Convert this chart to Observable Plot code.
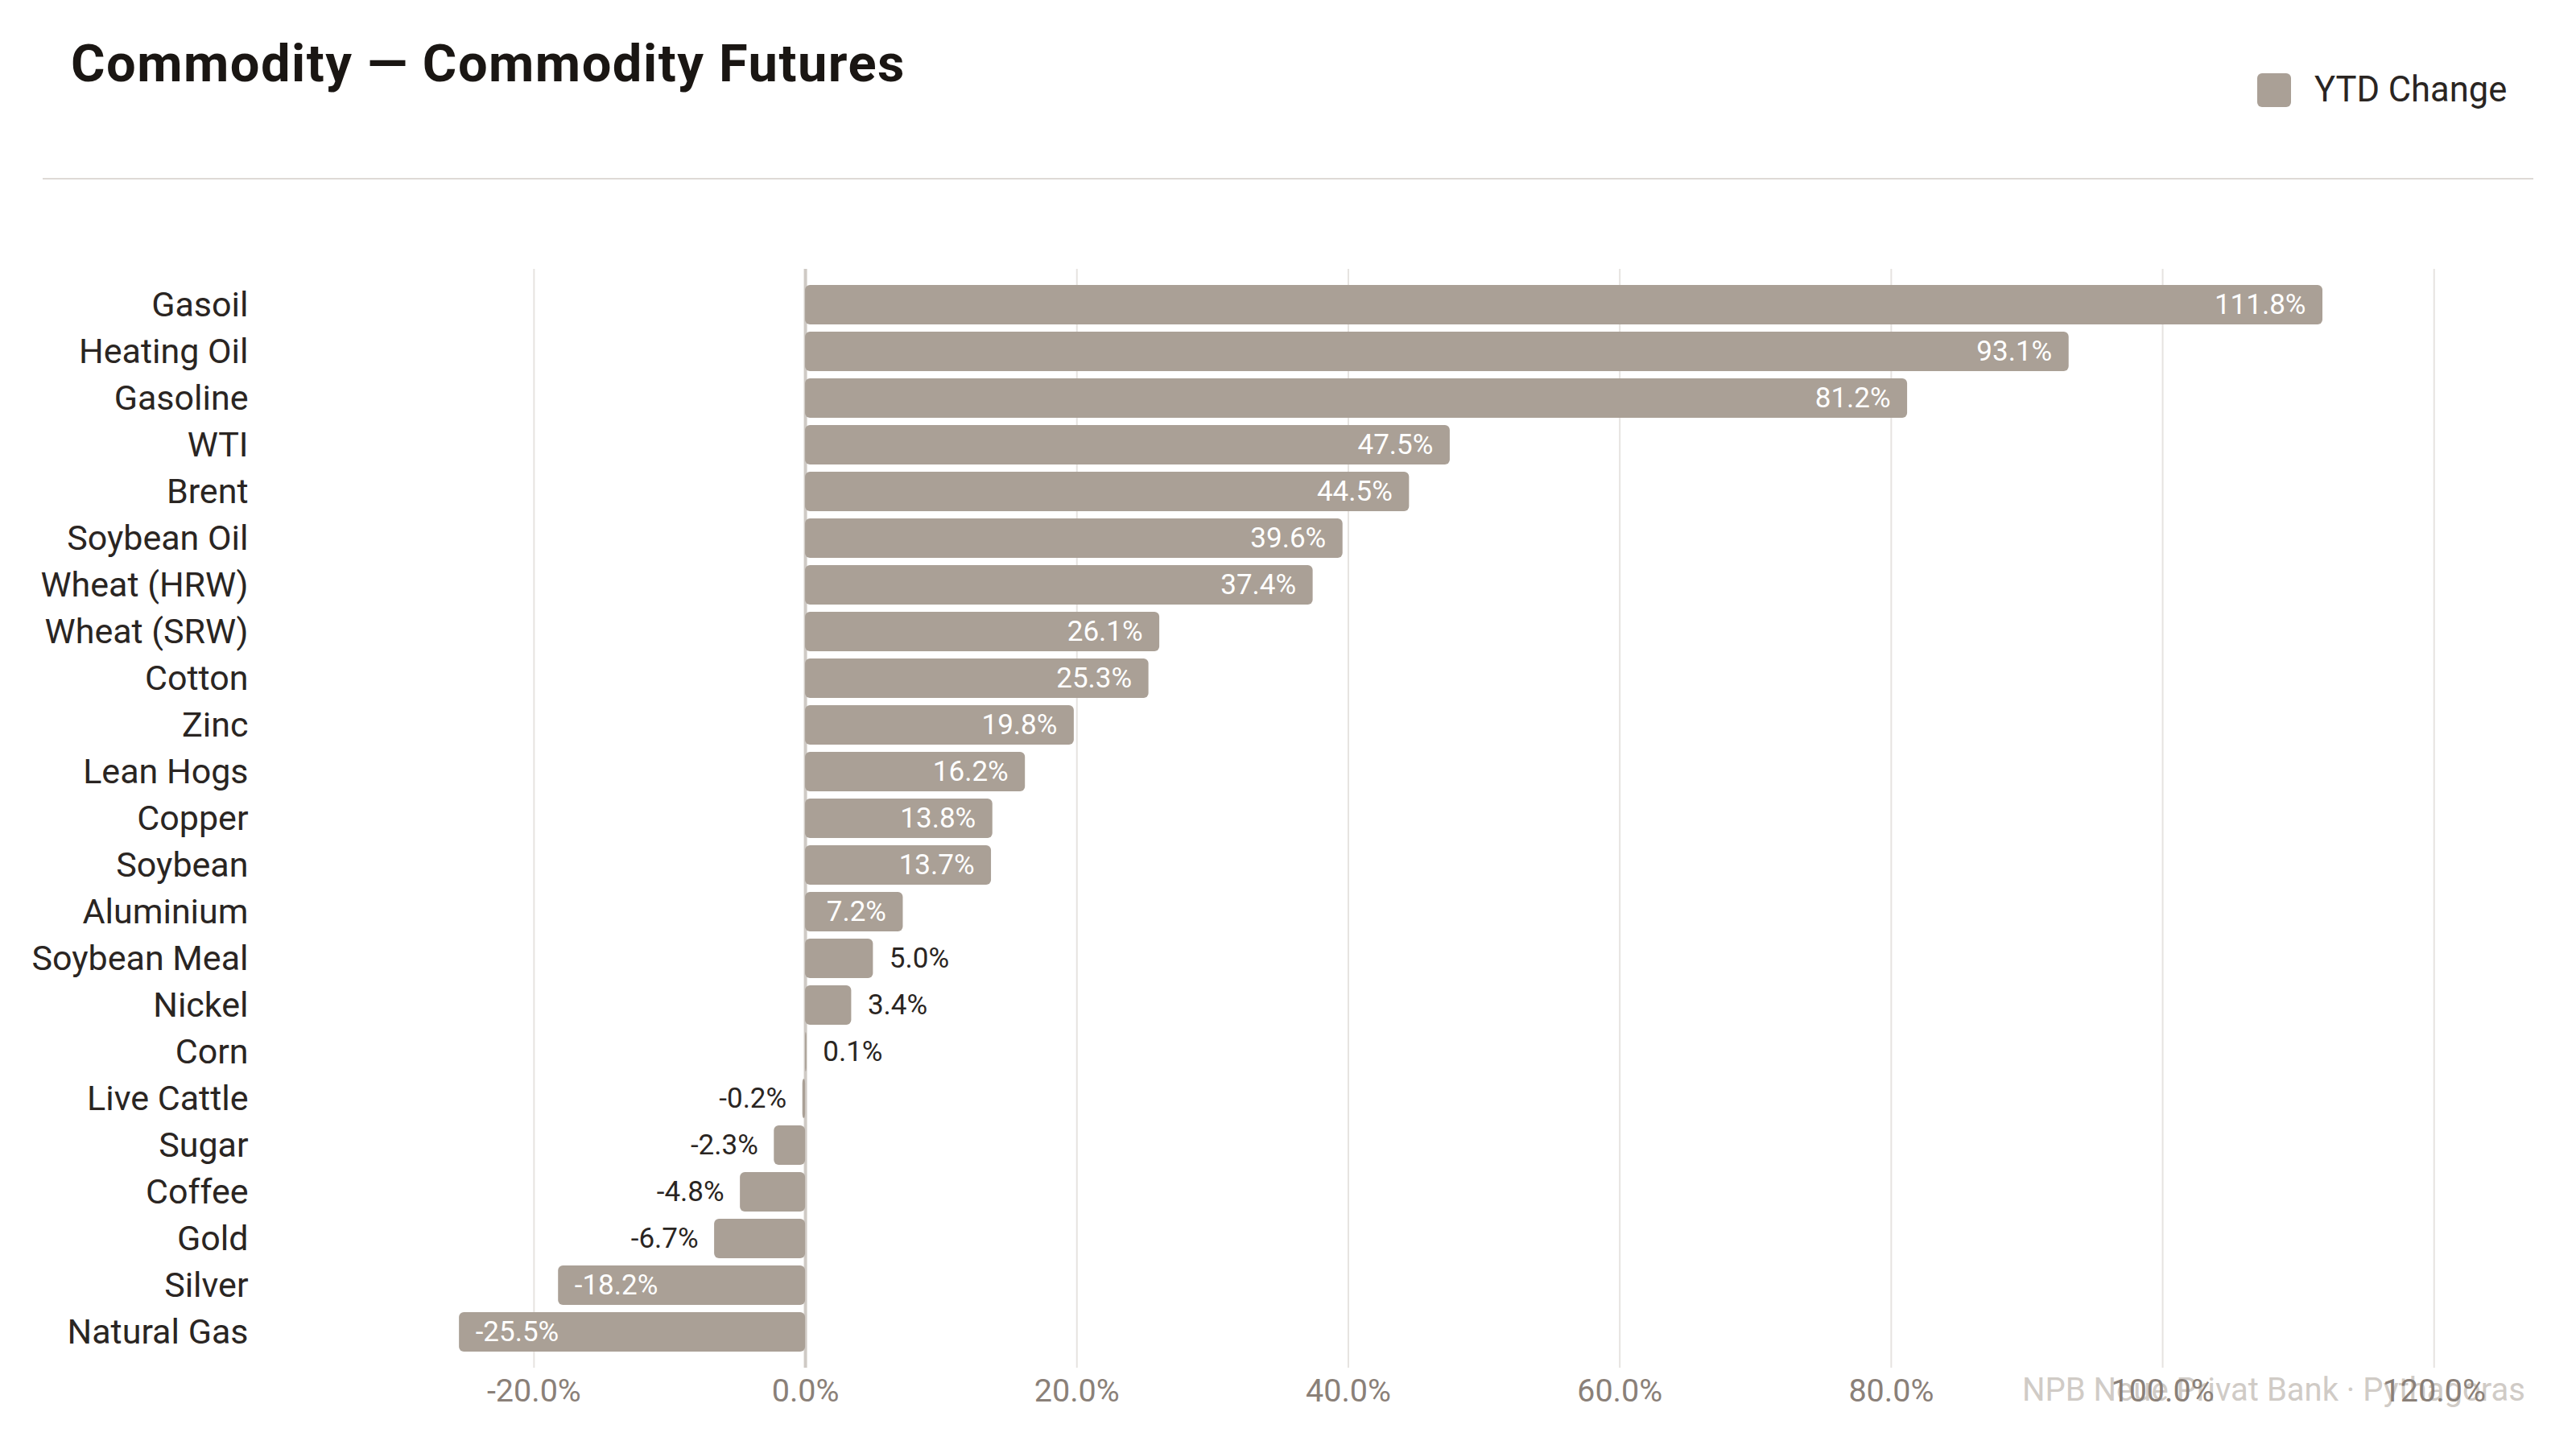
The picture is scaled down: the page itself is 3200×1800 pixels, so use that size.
<!DOCTYPE html>
<html>
<head>
<meta charset="utf-8">
<script src="https://cdn.jsdelivr.net/npm/d3@7"></script>
<script src="https://cdn.jsdelivr.net/npm/@observablehq/plot@0.6"></script>
<style>
  html, body { margin: 0; padding: 0; background: #ffffff; }
  #page { position: relative; width: 3200px; height: 1800px; overflow: hidden; font-family: Roboto, "Noto Sans", sans-serif; }
  #title { position: absolute; left: 88px; top: 47px; font-size: 65px; line-height: 65px; font-weight: 700; letter-spacing: 1.5px; color: #1a1613; white-space: nowrap; }
  #sep { position: absolute; left: 53px; top: 221px; width: 3094px; height: 2px; background: #dedad6; }
  #legend { position: absolute; left: 2804px; top: 89px; display: flex; align-items: center; white-space: nowrap; }
  #legend .sw { width: 42px; height: 42px; border-radius: 6px; background: #aaa096; margin-right: 29px; }
  #legend .lb { font-size: 43.5px; line-height: 46px; color: #2a2522; }
  #chart { position: absolute; left: 0; top: 300px; z-index: 1; }
  #footer { position: absolute; right: 63px; top: 1707px; font-size: 40px; line-height: 40px; color: #d0cbc6; white-space: nowrap; z-index: 0; }
</style>
</head>
<body>
<div id="page">
  <div id="title">Commodity — Commodity Futures</div>
  <div id="legend"><div class="sw"></div><div class="lb">YTD Change</div></div>
  <div id="sep"></div>
  <div id="chart"></div>
  <div id="footer">NPB Neue Privat Bank · Pythagoras</div>
</div>
<script>
const names = ["Gasoil", "Heating Oil", "Gasoline", "WTI", "Brent", "Soybean Oil", "Wheat (HRW)", "Wheat (SRW)", "Cotton", "Zinc", "Lean Hogs", "Copper", "Soybean", "Aluminium", "Soybean Meal", "Nickel", "Corn", "Live Cattle", "Sugar", "Coffee", "Gold", "Silver", "Natural Gas"];
const values = [111.8, 93.1, 81.2, 47.5, 44.5, 39.6, 37.4, 26.1, 25.3, 19.8, 16.2, 13.8, 13.7, 7.2, 5.0, 3.4, 0.1, -0.2, -2.3, -4.8, -6.7, -18.2, -25.5];
const xTicks = [-20, 0, 20, 40, 60, 80, 100, 120];
const seriesName = "YTD Change";

const data = names.map((name, i) => ({name, value: values[i]}));
const fmt = v => v.toFixed(1) + "%";
const inside = d => Math.abs(d.value) >= 7;

const barColor = "#aaa096";
const dark = "#2a2522";
const fontSize = 35;

const chart = Plot.plot({
  width: 3200,
  height: 1500,
  marginLeft: 340,
  marginRight: 53,
  marginTop: 34,
  marginBottom: 101,
  style: {fontFamily: "Roboto, 'Noto Sans', sans-serif", background: "transparent", overflow: "visible"},
  x: {domain: [-39.15, 127.34], axis: null, label: null},
  y: {domain: names, padding: 0.16, axis: null, label: null},
  marks: [
    Plot.gridX(xTicks, {stroke: "#e6e3e0", strokeWidth: 2, strokeOpacity: 1}),
    Plot.ruleX([0], {stroke: "#cfcac5", strokeWidth: 4}),
    Plot.barX(data, {x: "value", y: "name", fill: barColor, rx: 6}),
    Plot.text(data.filter(d => inside(d) && d.value > 0), {x: "value", y: "name", text: d => fmt(d.value), textAnchor: "end", dx: -21, fill: "white", fontSize}),
    Plot.text(data.filter(d => inside(d) && d.value < 0), {x: "value", y: "name", text: d => fmt(d.value), textAnchor: "start", dx: 20, fill: "white", fontSize}),
    Plot.text(data.filter(d => !inside(d) && d.value >= 0), {x: "value", y: "name", text: d => fmt(d.value), textAnchor: "start", dx: 20, fill: dark, fontSize}),
    Plot.text(data.filter(d => !inside(d) && d.value < 0), {x: "value", y: "name", text: d => fmt(d.value), textAnchor: "end", dx: -20, fill: dark, fontSize}),
    Plot.axisY({tickSize: 0, tickPadding: 32, fontSize: 43, color: dark, label: null}),
    Plot.axisX(xTicks, {tickSize: 0, tickPadding: 13, fontSize: 39.5, color: "#8a8078", tickFormat: fmt, label: null})
  ]
});
document.getElementById("chart").appendChild(chart);
</script>
</body>
</html>
